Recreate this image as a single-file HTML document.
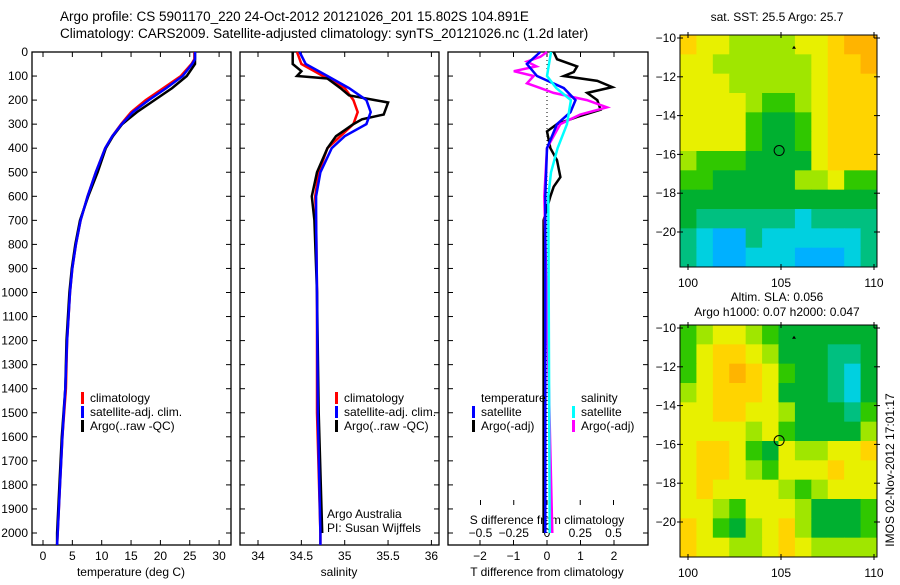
<!DOCTYPE html>
<html><head><meta charset="utf-8"><style>
html,body{margin:0;padding:0;background:#fff;}
svg text{font-family:"Liberation Sans",sans-serif;font-size:12px;fill:#000;}
</style></head><body>
<svg id="s" width="900" height="580" viewBox="0 0 900 580">
<text x="60" y="21" style="font-size:13.5px">Argo profile: CS 5901170_220 24-Oct-2012 20121026_201 15.802S 104.891E</text>
<text x="60" y="38" style="font-size:13.5px">Climatology: CARS2009. Satellite-adjusted climatology: synTS_20121026.nc (1.2d later)</text>
<text x="777" y="21" text-anchor="middle">sat. SST: 25.5 Argo: 25.7</text>
<text x="777" y="301" text-anchor="middle">Altim. SLA: 0.056</text>
<text x="777" y="316" text-anchor="middle">Argo h1000: 0.07 h2000: 0.047</text>
<text transform="translate(894,470) rotate(-90)" text-anchor="middle">IMOS 02-Nov-2012 17:01:17</text>
<g id="g"></g>
</svg>
<script>
// ---- data ----
const depthTicks=[0,100,200,300,400,500,600,700,800,900,1000,1100,1200,1300,1400,1500,1600,1700,1800,1900,2000];
const tempTicks=[0,5,10,15,20,25,30];
const salTicks=[34,34.5,35,35.5,36];
const tdiffTicks=[-2,-1,0,1,2];
const sdiffTicks=[-0.5,-0.25,0,0.25,0.5];
const tempClimDepth=[0,30,50,100,150,200,250,300,350,400,500,600,700,800,900,1000,1200,1400,1600,1800,2000,2050];
const tempClim=[25.8,25.8,25.3,23.5,20.5,17.5,15,13.3,11.8,10.6,9,7.6,6.4,5.6,5.0,4.6,4.1,3.9,3.3,2.9,2.5,2.4];
const tempSat=[25.9,25.9,25.4,23.8,21,18,15.3,13.4,11.8,10.6,9,7.6,6.4,5.6,5.0,4.6,4.1,3.8,3.3,2.9,2.5,2.4];
const tempArgo=[25.9,25.9,25.9,24.5,22,19,16,13.5,11.9,10.7,9.3,7.7,6.3,5.5,4.9,4.5,4.0,3.8,3.2,2.8,2.4,2.4];
const salClimDepth=[0,50,100,150,200,250,300,350,400,500,600,700,1000,1500,2000,2050];
const salClim=[34.45,34.5,34.75,35.0,35.1,35.15,35.1,34.95,34.8,34.7,34.66,34.67,34.68,34.68,34.72,34.72];
const salSat=[34.48,34.55,34.8,35.05,35.25,35.3,35.25,35.0,34.85,34.72,34.67,34.67,34.68,34.69,34.72,34.72];
const salArgoDepth=[0,50,80,100,110,150,180,200,210,260,280,300,350,400,500,600,700,1000,1500,2000];
const salArgo=[34.4,34.4,34.5,34.45,34.8,34.95,35.05,35.35,35.5,35.45,35.2,35.1,34.9,34.8,34.68,34.62,34.65,34.68,34.7,34.74];
const tdArgoDepth=[0,30,60,83,100,120,146,170,200,240,270,300,330,400,450,520,560,600,700,1000,1500,2000];
const tdArgo=[0.2,0.3,0.9,0.8,0.5,1.5,1.95,1.2,1.5,1.6,0.9,0.3,0,0.1,0.3,0.4,0.2,0.1,-0.1,-0.1,-0.1,-0.1];
const tdSatDepth=[0,50,100,150,200,250,300,400,600,2000];
const tdSat=[-0.2,-0.6,-0.3,0.5,0.85,0.7,0.3,0,-0.05,-0.05];
const sdSatDepth=[0,100,150,200,300,400,500,600,2000];
const sdSat=[0.03,0.0,0.07,0.18,0.15,0.08,0.03,0.01,0.02];
const sdArgoDepth=[0,20,40,60,80,100,130,150,170,200,230,260,300,350,400,600,2000];
const sdArgo=[0.0,-0.05,-0.15,-0.08,-0.25,-0.1,-0.15,-0.05,0.05,0.3,0.45,0.25,0.1,0.05,0.0,-0.02,0.04];
const sstGrid=[
[8,7,7,6,6,6,6,7,7,8,9,9],[7,7,6,6,6,6,6,6,7,8,8,9],[7,7,7,6,6,6,6,6,7,8,8,8],
[7,7,7,7,6,5,5,6,7,8,8,8],[7,7,7,7,5,4,4,5,7,8,8,8],[7,7,7,7,5,4,4,5,7,8,8,8],
[6,5,5,5,4,4,4,4,7,8,8,8],[5,5,4,4,4,4,4,6,6,7,5,5],[4,4,4,4,4,4,4,4,4,4,4,4],
[4,3,3,3,3,3,3,2,3,3,3,3],[3,2,1,1,3,2,2,2,2,2,2,3],[3,2,1,1,2,2,2,1,1,1,2,3]];
const slaGrid=[
[5,6,7,7,6,5,4,4,4,4,4,4],[5,7,8,8,7,6,4,4,4,3,3,4],[5,7,8,9,8,7,5,4,4,3,2,4],
[6,7,8,8,8,7,4,4,4,3,2,4],[7,7,8,8,7,7,6,4,4,4,3,5],[7,7,7,7,6,7,5,4,4,4,4,6],
[7,8,8,7,5,4,7,6,6,7,7,8],[7,8,8,7,6,5,7,7,7,8,7,7],[7,8,7,7,7,7,6,5,6,7,7,7],
[7,7,6,5,7,7,7,6,4,4,4,5],[8,7,5,4,6,7,8,6,4,4,4,5],[8,7,7,6,6,7,8,7,6,6,6,6]];
const mapLonTicks=[100,105,110];
const mapLatTicks=[-10,-12,-14,-16,-18,-20];
const argoPos=[104.9,-15.8];
const palette=['#0060ff','#00b0ff','#00d0e0','#00c080','#00b030','#30c800','#a0e600','#e8f000','#ffd400','#ffb400'];

// ---- helpers ----
const NS='http://www.w3.org/2000/svg';
const G=document.getElementById('g');
function mk(t,a){const e=document.createElementNS(NS,t);for(const k in a)e.setAttribute(k,a[k]);G.appendChild(e);return e;}
const yD=d=>52+0.2405*d;
const xT=v=>43+5.87*v, xS=v=>258+86.7*(v-34), xTd=v=>547+33.5*v, xSd=v=>547+133*v;
function line(xs,ds,fx,col,name){
  const p=mk('polyline',{points:xs.map((v,i)=>fx(v).toFixed(1)+','+yD(ds[i]).toFixed(1)).join(' '),fill:'none',stroke:col,'stroke-width':2.5});
  
  
}
const panels=[[32,231],[240,439],[448,648]];
panels.forEach((p,i)=>{
  const r=mk('rect',{x:p[0],y:52,width:p[1]-p[0],height:493,fill:'none',stroke:'#000','stroke-width':1.3});
  
  
  depthTicks.forEach(d=>{
    mk('line',{x1:p[0],x2:p[0]+5,y1:yD(d),y2:yD(d),stroke:'#000'});
    mk('line',{x1:p[1]-5,x2:p[1],y1:yD(d),y2:yD(d),stroke:'#000'});
  });
});
depthTicks.forEach(d=>{
  const t=mk('text',{x:28,y:yD(d)+4,'text-anchor':'end'});t.textContent=d;
  
  
});
function xticks(ticks,fx,yb,labY,top){
  ticks.forEach(v=>{
    mk('line',{x1:fx(v),x2:fx(v),y1:yb-5,y2:yb,stroke:'#000'});
    if(top)mk('line',{x1:fx(v),x2:fx(v),y1:52,y2:57,stroke:'#000'});
    const t=mk('text',{x:fx(v),y:labY,'text-anchor':'middle'});t.textContent=(v<0?'\u2212'+(-v):v);
    
    
  });
}
xticks(tempTicks,xT,545,560,true);
xticks(salTicks,xS,545,560,true);
xticks(tdiffTicks,xTd,545,560,true);
xticks(sdiffTicks,xSd,505,537,false);
[[131,'temperature (deg C)'],[339,'salinity'],[547,'T difference from climatology']].forEach(a=>{
  const t=mk('text',{x:a[0],y:576,'text-anchor':'middle'});t.textContent=a[1];
  
  
});
let st=mk('text',{x:547,y:524,'text-anchor':'middle'});st.textContent='S difference from climatology';


// zero dotted line
const z=mk('line',{x1:xTd(0),x2:xTd(0),y1:52,y2:545,stroke:'#000','stroke-dasharray':'1,3'});


// series
line(tempClim,tempClimDepth,xT,'#ff0000','temp-climatology');
line(tempArgo,tempClimDepth,xT,'#000000','temp-argo');
line(tempSat,tempClimDepth,xT,'#0000ff','temp-satellite');
line(salClim,salClimDepth,xS,'#ff0000','sal-climatology');
line(salArgo,salArgoDepth,xS,'#000000','sal-argo');
line(salSat,salClimDepth,xS,'#0000ff','sal-satellite');
line(tdArgo,tdArgoDepth,xTd,'#000000','tdiff-argo');
line(sdArgo,sdArgoDepth,xSd,'#ff00ff','sdiff-argo');
line(tdSat,tdSatDepth,xTd,'#0000ff','tdiff-satellite');
line(sdSat,sdSatDepth,xSd,'#00ffff','sdiff-satellite');
// legends
function leg(x,y,col,txt){
  if(col){const b=mk('rect',{x:x-9,y:y-10,width:3,height:12,fill:col});
    
    }
  const t=mk('text',{x:x,y:y});t.textContent=txt;
  
  
}
[[90,'#ff0000','climatology'],[90,'#0000ff','satellite-adj. clim.'],[90,'#000','Argo(..raw -QC)']].forEach((a,i)=>leg(a[0],402+i*14,a[1],a[2]));
[[344,'#ff0000','climatology'],[344,'#0000ff','satellite-adj. clim.'],[344,'#000','Argo(..raw -QC)']].forEach((a,i)=>leg(a[0],402+i*14,a[1],a[2]));
leg(481,402,null,'temperature');leg(481,416,'#0000ff','satellite');leg(481,430,'#000','Argo(-adj)');
leg(581,402,null,'salinity');leg(581,416,'#00ffff','satellite');leg(581,430,'#ff00ff','Argo(-adj)');
leg(327,518,null,'Argo Australia');leg(327,532,null,'PI: Susan Wijffels');
// maps
function map(grid,top,name){
  const L=680,R=877,H=232,W=R-L;
  const nr=grid.length,nc=grid[0].length;
  const xL=lon=>688+(lon-100)*18.6, yL=lat=>top+3+(-10-lat)*19.4;
  grid.forEach((row,i)=>row.forEach((v,j)=>{
    const c=mk('rect',{x:L+j*W/nc,y:top+i*H/nr,width:W/nc+0.5,height:H/nr+0.5,fill:palette[v]});
    
    
  }));
  const fr=mk('rect',{x:L,y:top,width:W,height:H,fill:'none',stroke:'#000'});
  
  
  mapLonTicks.forEach(v=>{
    mk('line',{x1:xL(v),x2:xL(v),y1:top-3,y2:top+3,stroke:'#000'});
    mk('line',{x1:xL(v),x2:xL(v),y1:top+H-3,y2:top+H+3,stroke:'#000'});
    const t=mk('text',{x:xL(v),y:top+H+20,'text-anchor':'middle'});t.textContent=v;
    
    
  });
  mapLatTicks.forEach(v=>{
    mk('line',{x1:L-3,x2:L+3,y1:yL(v),y2:yL(v),stroke:'#000'});
    mk('line',{x1:R-3,x2:R+3,y1:yL(v),y2:yL(v),stroke:'#000'});
    const t=mk('text',{x:L-4,y:yL(v)+4,'text-anchor':'end'});t.textContent='\u2212'+(-v);
    
    
  });
  const c=mk('circle',{cx:xL(argoPos[0]),cy:yL(argoPos[1]),r:5,fill:'none',stroke:'#000'});
  
  
  mk('path',{d:`M${xL(105.7)-2},${yL(-10.5)+1} L${xL(105.7)},${yL(-10.5)-2} L${xL(105.7)+2},${yL(-10.5)+1}Z`,fill:'#000'});
}
map(sstGrid,35,'sst-map');
map(slaGrid,325,'sla-map');
</script>
</body></html>
